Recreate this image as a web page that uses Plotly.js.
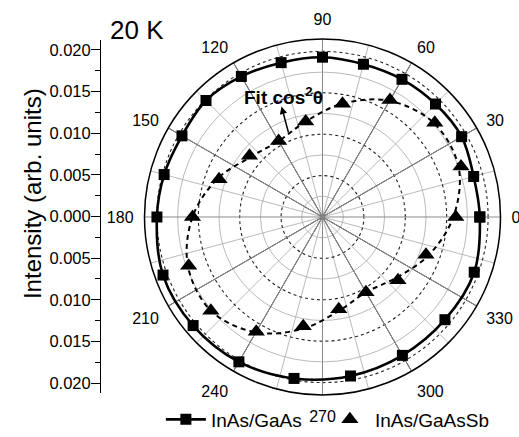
<!DOCTYPE html>
<html>
<head>
<meta charset="utf-8">
<script src="https://cdn.plot.ly/plotly-3.0.1.min.js"></script>
<style>html,body{margin:0;padding:0;background:#fff;}#chart{width:519px;height:437px;}</style>
</head>
<body>
<div id="chart"></div>
<script>
// ---- data ----
const gaasAngles = [0, 15, 30, 45, 60, 75, 90, 105, 120, 135, 150, 165, 180, 200, 220, 240, 260, 280, 300, 320, 340];
const gaasIntensity = [0.0190, 0.0189, 0.0194, 0.0193, 0.0192, 0.0191, 0.0193, 0.0193, 0.0196, 0.0199, 0.0196, 0.0198, 0.0200, 0.0205, 0.0204, 0.0202, 0.0198, 0.0195, 0.0193, 0.0193, 0.0195];

const sbAngles = [0, 20, 40, 60, 80, 100, 120, 140, 160, 180, 200, 220, 240, 260, 280, 300, 320, 340];
const sbIntensity = [0.0161, 0.0178, 0.0177, 0.0163, 0.0139, 0.0117, 0.0106, 0.0115, 0.0133, 0.0157, 0.0172, 0.0176, 0.0160, 0.0134, 0.0113, 0.0105, 0.0119, 0.0133];

const fitAngles = [0, 20, 40, 60, 80, 100, 120, 140, 160, 180, 200, 220, 240, 260, 280, 300, 320, 340];
const fitIntensity = [0.0158, 0.0175, 0.0176, 0.0162, 0.0139, 0.0117, 0.0106, 0.0113, 0.0135, 0.0157, 0.0173, 0.0176, 0.0161, 0.0137, 0.0115, 0.0105, 0.0115, 0.0136];

const angularTicks = [0, 30, 60, 90, 120, 150, 180, 210, 240, 270, 300, 330];
const radialMax = 0.0215;
const leftTicks = [-0.020, -0.015, -0.010, -0.005, 0, 0.005, 0.010, 0.015, 0.020];
const leftTickText = ['0.020', '0.015', '0.010', '0.005', '0.000', '0.005', '0.010', '0.015', '0.020'];

// close the loops
const close = (a, b) => a.concat([b]);
const FONT = 'Liberation Sans, Arial, Helvetica, sans-serif';

const traces = [
  { type: 'scatter', x: [], y: [], xaxis: 'x', yaxis: 'y', showlegend: false, hoverinfo: 'skip' },
  { type: 'scatterpolar', subplot: 'polar', r: [], theta: [], showlegend: false, hoverinfo: 'skip' },
  { type: 'scatterpolar', subplot: 'polar2', r: [], theta: [], showlegend: false, hoverinfo: 'skip' },
  { type: 'scatterpolar', subplot: 'polar3', mode: 'lines', showlegend: false,
    theta: close(fitAngles, fitAngles[0] + 360), r: close(fitIntensity, fitIntensity[0]),
    line: { color: '#000', width: 2, dash: '5px,4px', shape: 'spline' } },
  { type: 'scatterpolar', subplot: 'polar3', mode: 'lines+markers', name: 'InAs/GaAs',
    theta: close(gaasAngles, gaasAngles[0] + 360), r: close(gaasIntensity, gaasIntensity[0]),
    line: { color: '#000', width: 2.6, shape: 'spline' },
    marker: { symbol: 'square', size: 11, color: '#000' } },
  { type: 'scatterpolar', subplot: 'polar3', mode: 'markers', name: 'InAs/GaAsSb',
    theta: sbAngles, r: sbIntensity,
    marker: { symbol: 'triangle-up', size: 15, color: '#000' } }
];

const dom = { x: [0.2784, 0.9644], y: [0.0961, 0.9108] };
const hiddenRadialBase = { range: [0, radialMax], showline: false, showticklabels: false, ticks: '' };

const layout = {
  width: 519, height: 437,
  margin: { l: 0, r: 0, t: 0, b: 0, autoexpand: false },
  paper_bgcolor: '#fff', plot_bgcolor: 'rgba(0,0,0,0)',
  font: { family: FONT, color: '#000' },
  showlegend: true,
  legend: { orientation: 'h', x: 0.310, xanchor: 'left', y: 0.04, yanchor: 'middle',
            font: { size: 19, family: FONT }, bgcolor: 'rgba(0,0,0,0)', entrywidth: 109, itemwidth: 40 },
  xaxis: { domain: [0.1927, 0.2], range: [0, 1], visible: false, fixedrange: true, automargin: false },
  yaxis: { domain: [0.1007, 0.9085], range: [-0.0212, 0.0212], anchor: 'free', position: 0.1927,
           automargin: false,
           tickmode: 'array', tickvals: leftTicks, ticktext: leftTickText,
           ticks: 'outside', ticklen: 9, tickwidth: 1, tickcolor: '#000', ticklabelstandoff: -3,
           minor: { tick0: 0, dtick: 0.0025, ticks: 'outside', ticklen: 5, tickcolor: '#000', showgrid: false },
           showline: true, linecolor: '#000', linewidth: 1, showgrid: false, zeroline: false,
           tickfont: { size: 16.5, family: FONT } },
  polar: {
    domain: dom, bgcolor: '#fff',
    angularaxis: { rotation: 0, direction: 'counterclockwise', tickmode: 'array',
                   tickvals: [15, 45, 75, 105, 135, 165, 195, 225, 255, 285, 315, 345],
                   showticklabels: false, ticks: '', showline: false,
                   showgrid: true, gridcolor: '#a8a8a8', gridwidth: 0.8 },
    radialaxis: Object.assign({}, hiddenRadialBase, { tickmode: 'array', tickvals: [0.0025, 0.0075, 0.0125, 0.0175],
                   showgrid: true, gridcolor: '#a8a8a8', gridwidth: 0.8 })
  },
  polar2: {
    domain: dom, bgcolor: 'rgba(0,0,0,0)',
    angularaxis: { rotation: 0, direction: 'counterclockwise', tickmode: 'array',
                   tickvals: [30, 60, 120, 150, 210, 240, 300, 330],
                   showticklabels: false, ticks: '', showline: false,
                   showgrid: true, gridcolor: '#1a1a1a', gridwidth: 1 },
    radialaxis: Object.assign({}, hiddenRadialBase, { tickmode: 'array', tickvals: [0.005, 0.010, 0.015, 0.020],
                   showgrid: true, gridcolor: '#222', gridwidth: 1.1, griddash: 'dot' })
  },
  polar3: {
    domain: dom, bgcolor: 'rgba(0,0,0,0)',
    angularaxis: { rotation: 0, direction: 'counterclockwise', tickmode: 'array',
                   tickvals: angularTicks, ticktext: angularTicks.map(String),
                   showticklabels: true, ticks: 'outside', ticklen: 7, tickcolor: 'rgba(0,0,0,0)',
                   tickfont: { size: 16, family: FONT },
                   showline: true, linecolor: '#000', linewidth: 1.5,
                   showgrid: true, gridcolor: '#8a8a8a', gridwidth: 1 },
    radialaxis: Object.assign({}, hiddenRadialBase, { showgrid: false })
  },
  annotations: [
    { xref: 'paper', yref: 'paper', x: 0.0617, y: 0.556, xanchor: 'center', yanchor: 'middle',
      text: 'Intensity (arb. units)', textangle: -90, showarrow: false, font: { size: 24, family: FONT } },
    { xref: 'paper', yref: 'paper', x: 0.208, y: 0.931, xanchor: 'left', yanchor: 'middle',
      text: '20 K', showarrow: false, font: { size: 26, family: FONT } },
    { xref: 'paper', yref: 'paper', x: 0.547, y: 0.781, xanchor: 'center', yanchor: 'middle',
      text: '<b>Fit cos<sup>2</sup>θ</b>', showarrow: false, font: { size: 19, family: FONT } },
    { xref: 'paper', yref: 'paper', x: 0.5424, y: 0.7563, text: ' ', showarrow: true,
      ax: 7.5, ay: 28, arrowhead: 2, arrowsize: 1, arrowwidth: 1.5, arrowcolor: '#000',
      font: { size: 1 }, standoff: 0, startstandoff: 0 }
  ]
};

Plotly.newPlot('chart', traces, layout, { staticPlot: true, displayModeBar: false });
</script>
</body>
</html>
